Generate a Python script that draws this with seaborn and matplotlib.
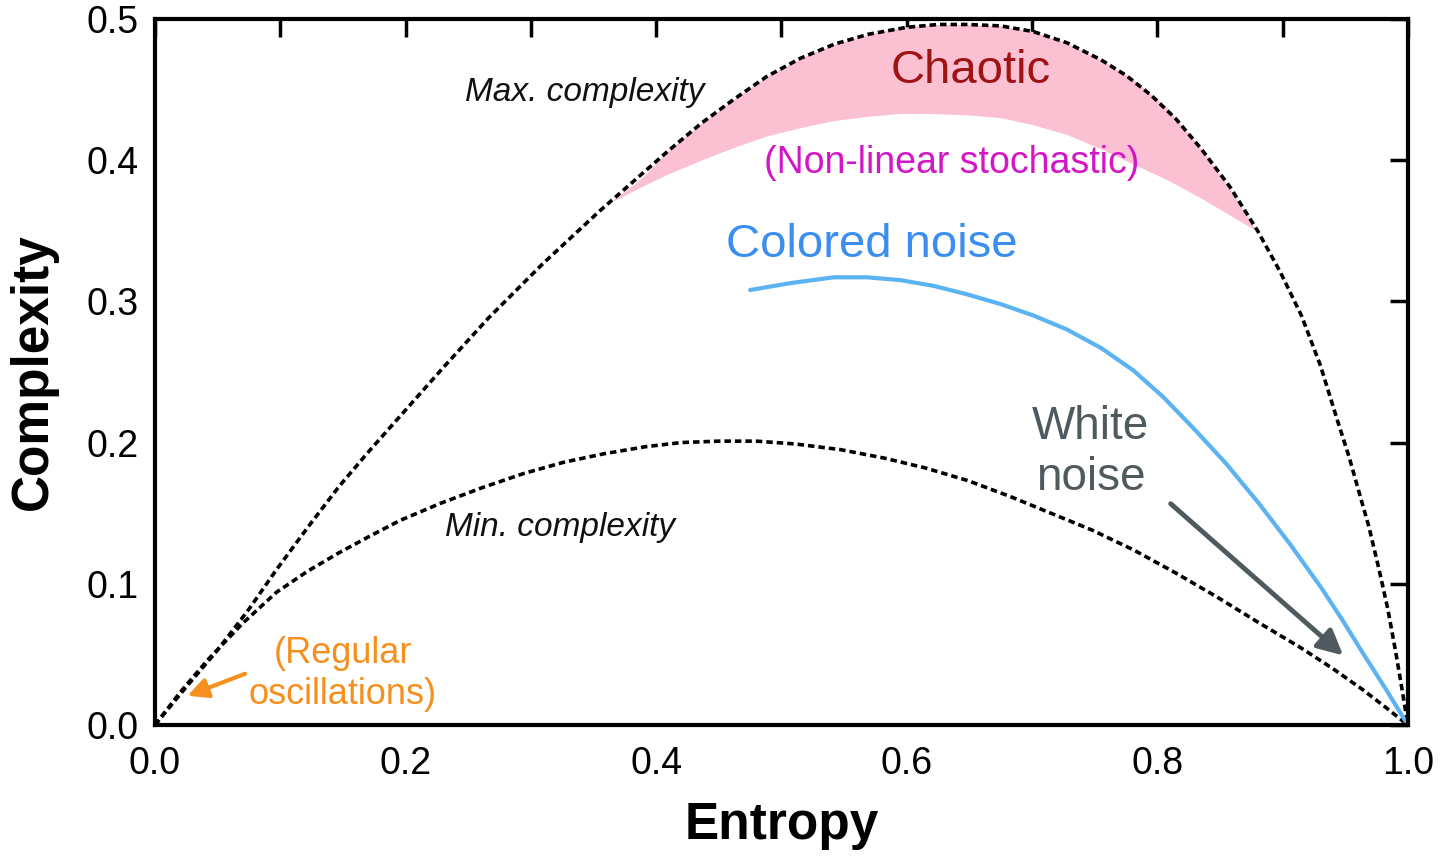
import matplotlib
matplotlib.use("Agg")
import matplotlib.pyplot as plt
import numpy as np
import seaborn as sns

# curves (entropy, complexity)
max_x = [0.0, 0.012, 0.025, 0.049, 0.075, 0.097, 0.122, 0.147, 0.170, 0.193, 0.230, 0.266,
         0.310, 0.355, 0.382, 0.409, 0.436, 0.462, 0.488, 0.515, 0.542, 0.569, 0.600,
         0.625, 0.648, 0.675, 0.701, 0.728, 0.755, 0.775, 0.795, 0.815, 0.835, 0.858,
         0.880, 0.898, 0.915, 0.930, 0.944, 0.953, 0.960, 0.969, 0.977, 0.984, 0.990,
         0.995, 1.0]
max_y = [0.0, 0.013, 0.027, 0.052, 0.082, 0.110, 0.140, 0.169, 0.193, 0.216, 0.253, 0.288,
         0.327, 0.364, 0.385, 0.406, 0.426, 0.443, 0.459, 0.472, 0.482, 0.489, 0.494,
         0.496, 0.496, 0.495, 0.491, 0.483, 0.471, 0.460, 0.446, 0.429, 0.408, 0.381,
         0.350, 0.321, 0.290, 0.255, 0.215, 0.190, 0.168, 0.140, 0.110, 0.082, 0.053,
         0.027, 0.0]

min_x = [0.0, 0.020, 0.042, 0.070, 0.097, 0.122, 0.147, 0.172, 0.196, 0.228, 0.261, 0.294,
         0.326, 0.358, 0.391, 0.420, 0.450, 0.480, 0.511, 0.547, 0.582, 0.615, 0.649,
         0.682, 0.715, 0.748, 0.781, 0.814, 0.847, 0.880, 0.914, 0.940, 0.964, 0.983, 1.0]
min_y = [0.0, 0.023, 0.046, 0.072, 0.094, 0.109, 0.122, 0.134, 0.145, 0.157, 0.168, 0.178,
         0.186, 0.192, 0.197, 0.200, 0.201, 0.201, 0.199, 0.195, 0.189, 0.182, 0.173,
         0.162, 0.150, 0.138, 0.124, 0.108, 0.091, 0.073, 0.055, 0.040, 0.025, 0.012, 0.0]

noise_x = [0.475, 0.508, 0.542, 0.568, 0.595, 0.621, 0.648, 0.675, 0.701, 0.728, 0.755,
           0.781, 0.805, 0.829, 0.855, 0.881, 0.906, 0.931, 0.948, 0.964, 0.982, 1.0]
noise_y = [0.308, 0.313, 0.317, 0.317, 0.315, 0.311, 0.305, 0.298, 0.290, 0.280, 0.267,
           0.251, 0.232, 0.210, 0.185, 0.157, 0.128, 0.097, 0.074, 0.051, 0.026, 0.0]

chaos_x = [0.366, 0.388, 0.409, 0.436, 0.462, 0.488, 0.515, 0.542, 0.569, 0.595, 0.621,
           0.648, 0.675, 0.701, 0.728, 0.755, 0.781, 0.808, 0.835, 0.856, 0.877]
chaos_lo = [0.371, 0.381, 0.390, 0.400, 0.409, 0.417, 0.423, 0.428, 0.431, 0.433, 0.433,
            0.432, 0.430, 0.425, 0.418, 0.408, 0.397, 0.386, 0.373, 0.362, 0.351]
chaos_hi = [0.372, 0.387, 0.406, 0.426, 0.443, 0.459, 0.472, 0.482, 0.489, 0.494, 0.496,
            0.496, 0.495, 0.491, 0.483, 0.471, 0.457, 0.437, 0.408, 0.382, 0.353]

sns.set_theme(style="white")
plt.rcParams["font.family"] = ["Liberation Sans", "DejaVu Sans"]

fig, ax = plt.subplots(figsize=(14.44, 8.56), dpi=100)
fig.subplots_adjust(left=0.1073, right=0.975, bottom=0.153, top=0.978)

ax.fill_between(chaos_x, chaos_lo, chaos_hi, color="#fbc1d3", lw=0)

dots = (0, (1.8, 1.1))
sns.lineplot(x=max_x, y=max_y, ax=ax, color="black", lw=2.6, linestyle=dots,
             sort=False, estimator=None)
sns.lineplot(x=min_x, y=min_y, ax=ax, color="black", lw=2.6, linestyle=dots,
             sort=False, estimator=None)
sns.lineplot(x=noise_x, y=noise_y, ax=ax, color="#5cb3f2", lw=3,
             sort=False, estimator=None)

# labels
ax.text(0.343, 0.448, "Max. complexity", style="italic", fontsize=24,
        ha="center", va="center", color="#111111")
ax.text(0.323, 0.140, "Min. complexity", style="italic", fontsize=24,
        ha="center", va="center", color="#111111")
ax.text(0.651, 0.463, "Chaotic", fontsize=34, ha="center", va="center", color="#9e1414")
ax.text(0.636, 0.398, "(Non-linear stochastic)", fontsize=27, ha="center", va="center",
        color="#d316c6")
ax.text(0.572, 0.340, "Colored noise", fontsize=34, ha="center", va="center", color="#3a8ef0")
ax.text(0.747, 0.193, "White\nnoise", fontsize=33, ha="center", va="center", color="#4f5a5e")
ax.text(0.150, 0.036, "(Regular\noscillations)", fontsize=26, ha="center", va="center",
        color="#f5901e")

ax.annotate("", xy=(0.950, 0.048), xytext=(0.809, 0.158),
            arrowprops=dict(arrowstyle="-|>", color="#4f5a5e", lw=3.5, mutation_scale=38))
ax.annotate("", xy=(0.024, 0.020), xytext=(0.074, 0.037),
            arrowprops=dict(arrowstyle="-|>", color="#f5901e", lw=3, mutation_scale=30))

ax.set_xlim(0, 1)
ax.set_ylim(0, 0.5)
ax.set_xticks(np.arange(0, 1.01, 0.2))
ax.set_xticks(np.arange(0.1, 1.0, 0.2), minor=True)
ax.set_yticks(np.arange(0, 0.51, 0.1))
ax.set_xticklabels(["0.0", "0.2", "0.4", "0.6", "0.8", "1.0"])
ax.set_yticklabels(["0.0", "0.1", "0.2", "0.3", "0.4", "0.5"])
ax.tick_params(which="both", direction="in", length=13, width=2.5, top=True, right=True,
               labelsize=27, color="black", labelcolor="black")
ax.tick_params(axis="x", which="both", pad=15)
ax.tick_params(axis="y", which="both", pad=12)

for s in ax.spines.values():
    s.set_linewidth(3)
    s.set_color("black")

ax.set_xlabel("Entropy", fontsize=37, fontweight="bold", labelpad=14, color="black")
ax.set_ylabel("Complexity", fontsize=37, fontweight="bold", labelpad=20, color="black")

fig.savefig("out.png", dpi=100)
